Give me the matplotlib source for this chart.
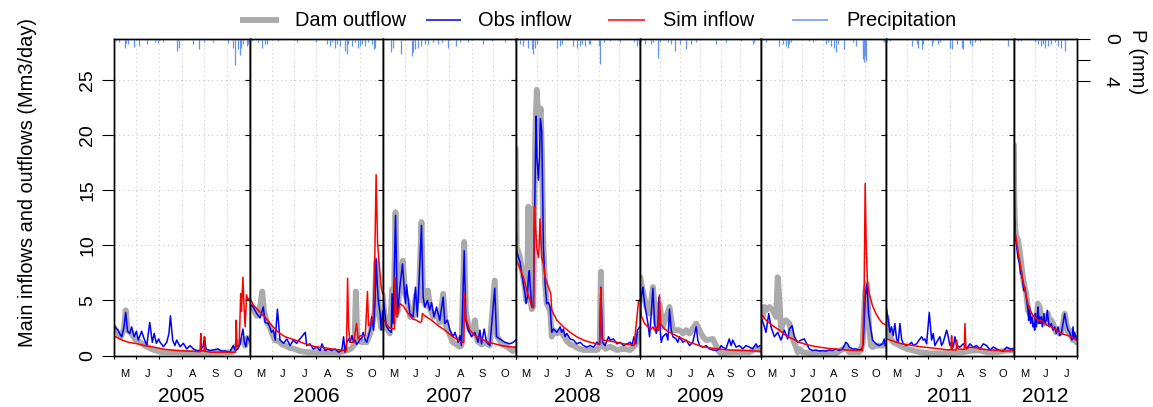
import numpy as np
import matplotlib
matplotlib.use("Agg")
import matplotlib.pyplot as plt
from matplotlib.lines import Line2D

plt.rcParams['font.family'] = ['Liberation Sans', 'DejaVu Sans']

# Seasons: each panel runs from 1 May; x values are days after 1 May
YEARS = [2005, 2006, 2007, 2008, 2009, 2010, 2011, 2012]
SEASON_DAYS = [184, 184, 184, 184, 184, 184, 184, 92]
MONTH_LABELS = ["M", "J", "J", "A", "S", "O"]
MONTH_STARTS = [0, 31, 61, 92, 123, 153, 184]

# ---- Dam outflow (Mm3/day): (day, value)
OUT_2005 = [(0, 2.6), (5, 2.1), (10, 1.7), (14, 2.4), (16.5, 4.1), (19, 2.3), (24, 2.0), (30, 1.4), (36, 1.2),
            (42, 0.9), (48, 0.7), (55, 0.5), (65, 0.3), (80, 0.3), (100, 0.25), (120, 0.25), (140, 0.25),
            (160, 0.3), (165, 0.8), (170, 1.2), (175, 1.4), (178, 0.9), (181, 1.6), (184, 1.3)]
OUT_2006 = [(0, 4.5), (5, 4.2), (10, 3.6), (15, 4.6), (17.5, 5.8), (20, 4.0), (24, 3.0), (28, 2.6), (31, 2.0),
            (35, 1.4), (40, 1.3), (45, 1.0), (50, 0.9), (55, 0.7), (62, 0.6), (70, 0.4), (80, 0.3), (95, 0.3),
            (110, 0.3), (125, 0.3), (132, 0.4), (140, 0.6), (145, 1.0), (147, 5.8), (149, 1.5), (155, 1.2),
            (162, 1.2), (167, 2.0), (170, 3.0), (173, 4.0), (175, 8.5), (177, 5.5), (180, 3.5), (182, 2.5),
            (184, 3.0)]
OUT_2007 = [(0, 5.5), (2, 4.0), (5, 2.5), (10, 2.0), (13, 6.0), (15, 3.0), (17.8, 13.0), (20.5, 4.0), (24, 6.8),
            (28, 8.6), (31, 5.5), (34, 5.0), (38, 3.5), (42, 3.5), (46, 5.5), (50, 5.0), (53.7, 12.1), (56, 5.0),
            (60, 4.5), (62.5, 5.9), (66, 4.2), (70, 3.5), (75, 3.8), (79, 3.0), (83.7, 5.6), (87, 2.8), (92, 2.0),
            (97, 1.2), (102, 1.0), (106, 0.8), (109, 0.9), (112.8, 10.3), (115, 4.0), (119, 2.5), (124, 2.0),
            (127.5, 3.2), (131, 1.3), (137, 1.0), (142, 1.2), (148, 0.9), (155, 6.8), (158, 1.8), (165, 1.0),
            (172, 0.8), (180, 0.4), (184, 0.6)]
OUT_2008 = [(0, 18.8), (0.8, 14.0), (1.5, 9.8), (4, 9.4), (6.4, 8.9), (9, 7.8), (11.4, 7.0), (13.9, 6.0),
            (15.5, 5.0), (17, 6.5), (18.8, 13.5), (20.5, 8.0), (22, 5.0), (23.8, 4.2), (26, 4.5), (27.5, 12.0),
            (29, 20.0), (31.2, 24.1), (33, 22.0), (35.2, 21.0), (37, 22.4), (39, 18.0), (41.1, 9.8), (43.6, 6.5),
            (46, 4.7), (51, 4.1), (53.5, 1.7), (56, 2.3), (61, 2.0), (66, 2.2), (71, 1.8), (76, 1.3), (81, 1.0),
            (86, 0.9), (91, 0.7), (100, 0.5), (110, 0.5), (120.4, 0.5), (124.5, 0.8), (126.3, 7.6), (128.5, 1.0),
            (133, 0.6), (140, 0.8), (150, 0.5), (160, 0.6), (170, 0.5), (175, 0.8), (178, 1.0), (181, 1.5),
            (184, 2.0)]
OUT_2009 = [(0.8, 7.1), (2.3, 6.5), (4.8, 5.9), (9.9, 4.4), (14.9, 3.8), (20, 6.2), (25, 2.9), (30, 4.7),
            (35, 2.6), (45.2, 4.4), (50.3, 2.3), (60.4, 2.3), (65.5, 2.0), (70.5, 2.3), (75.6, 2.0), (85.7, 2.9),
            (95.8, 1.7), (100.9, 1.4), (111, 1.5), (116, 0.9), (121, 0.3), (126, 0.15), (136, 0.3), (146, 0.3),
            (156.5, 0.3), (166.6, 0.3), (176.7, 0.6), (182.8, 0.45)]
OUT_2010 = [(0.3, 4.4), (2.7, 3.5), (5.2, 4.4), (7.6, 4.1), (12.5, 4.4), (17.4, 4.1), (22.3, 3.5), (24.8, 7.1),
            (27.2, 5.3), (29.7, 2.3), (32.1, 2.9), (37, 3.2), (42, 2.9), (44.3, 2.3), (46.8, 1.5), (51.7, 0.76),
            (54.2, 0.3), (56.6, 0.6), (61.5, 0.3), (71.3, 0.2), (90.9, 0.2), (110.5, 0.2), (125.2, 0.76),
            (130.1, 0.3), (144.8, 0.3), (149.7, 1.06), (153.6, 5.9), (156.1, 6.5), (159.5, 2.3), (162, 0.9),
            (164.4, 0.76), (169.3, 0.9), (181.5, 0.9)]
OUT_2011 = [(1, 3.5), (3.4, 2.3), (5.7, 1.7), (10.5, 1.2), (20.1, 0.9), (29.7, 0.6), (39.3, 0.45), (48.9, 0.3),
            (63.2, 0.2), (87.2, 0.2), (111.2, 0.3), (125.5, 0.45), (135.1, 0.45), (144.7, 0.3), (159.1, 0.3),
            (173.5, 0.45), (183, 0.45)]
OUT_2012 = [(0, 19.1), (0.5, 14.0), (2, 11.4), (3.4, 10.8), (5.8, 10.5), (8.3, 9.5), (10.7, 8.3), (13.1, 7.1),
            (15.6, 6.2), (18, 5.6), (20.4, 4.1), (22.9, 3.8), (25.3, 3.5), (27.8, 3.2), (30.2, 2.9), (32.6, 3.2),
            (35, 4.7), (37.5, 4.4), (40, 3.5), (42.4, 3.5), (44.8, 2.9), (47.2, 3.0), (49.7, 3.8), (52, 2.9),
            (54.5, 3.2), (57, 2.9), (59.4, 2.4), (61.8, 2.1), (64.3, 2.1), (66.7, 2.0), (69.1, 2.1), (71.6, 2.9),
            (74, 3.8), (76.4, 3.0), (78.9, 2.1), (81.3, 2.3), (83.7, 1.7), (86.2, 1.4), (88.6, 1.7), (91, 1.2)]

# ---- Observed inflow (Mm3/day)
OBS_2005 = [(0, 2.9), (3, 2.5), (6, 2.3), (9, 1.9), (11, 1.7), (14, 2.5), (16.5, 3.9), (19, 2.2), (22, 2.0),
            (24.5, 2.6), (28, 1.7), (31, 2.2), (33.5, 1.4), (38, 2.2), (41.5, 1.5), (45, 0.9), (49, 3.0),
            (52.5, 1.2), (55, 2.0), (58, 1.1), (61, 1.5), (63, 1.2), (67.5, 0.8), (72, 1.2), (75, 2.0), (77, 3.6),
            (80, 1.4), (83, 0.9), (85.5, 1.4), (90, 0.8), (94.5, 1.1), (99, 0.6), (103.5, 0.9), (108, 0.6),
            (112.5, 0.45), (117, 0.45), (121, 0.8), (123, 1.7), (125, 0.6), (130, 0.45), (135, 0.5), (141, 0.6),
            (146, 0.4), (151, 0.4), (157, 0.3), (162, 0.9), (165, 0.45), (168, 0.6), (171, 1.0), (175, 2.4),
            (177, 1.2), (179, 0.8), (181, 1.7), (184, 1.3)]
OBS_2006 = [(0, 4.7), (5, 4.4), (10, 3.8), (14.5, 3.4), (19, 4.4), (21.5, 3.0), (26, 2.9), (30.5, 2.1),
            (33, 2.3), (35.5, 1.4), (38.5, 4.2), (42, 1.4), (47, 1.1), (51.5, 1.5), (56, 0.9), (60.5, 1.4),
            (65, 1.1), (72, 1.7), (77, 2.1), (79, 0.9), (83.5, 1.06), (88, 0.6), (93, 0.75), (97.5, 0.45),
            (100, 1.06), (104.5, 0.45), (109, 0.6), (113.5, 0.45), (118, 0.6), (123, 0.3), (127.5, 0.45),
            (130, 1.7), (132, 0.3), (134.5, 1.2), (137, 1.5), (139, 1.2), (141.5, 1.8), (144, 1.2), (146, 1.4),
            (148, 1.0), (150.5, 1.2), (153, 1.5), (155, 1.5), (157, 2.1), (160, 1.4), (162, 1.2), (164.5, 1.8),
            (167, 2.4), (169, 3.5), (171.5, 2.3), (173.5, 5.0), (175, 8.8), (176.5, 6.5), (178, 5.0),
            (180.5, 3.8), (182, 2.3), (184, 4.0)]
OBS_2007 = [(0, 5.8), (2, 4.5), (5, 2.7), (8.5, 2.3), (12, 2.1), (13, 5.6), (14.5, 2.9), (17.8, 12.7),
            (20.5, 3.5), (23.8, 6.2), (27.5, 8.3), (29.7, 6.2), (31.6, 4.7), (33, 6.4), (37.6, 3.8), (42, 3.5),
            (45.4, 6.2), (48, 3.5), (50, 6.2), (53.7, 11.8), (56, 5.3), (58.3, 4.4), (62, 5.0), (65, 4.1),
            (67.6, 4.8), (71, 3.5), (74.5, 4.4), (79, 3.2), (83.7, 5.3), (86, 2.9), (89.7, 3.2), (93, 2.3),
            (97.5, 1.7), (100, 2.1), (104.5, 1.2), (106.8, 1.8), (109, 0.9), (112.8, 9.5), (115, 3.2),
            (118.3, 2.3), (123, 1.7), (127.5, 2.1), (132, 1.2), (134.5, 2.3), (136.7, 1.06), (140.4, 2.4),
            (143.7, 1.2), (148.3, 0.9), (155, 6.1), (157.5, 1.7), (162, 1.5), (169, 1.2), (176, 1.06),
            (180.6, 1.2), (184, 1.4)]
OBS_2008 = [(0, 17.4), (0.8, 12.0), (1.5, 9.5), (4, 8.9), (6.4, 8.5), (8.9, 7.4), (11.4, 6.5), (13.9, 5.6),
            (15.3, 4.7), (17.3, 5.3), (18.8, 7.1), (20.3, 7.7), (21.3, 6.5), (23.8, 4.4), (26.2, 4.5),
            (27.5, 10.0), (29, 17.0), (30.2, 21.7), (31.5, 18.0), (33.7, 15.9), (35.2, 18.0), (36.6, 21.5),
            (38.6, 20.4), (41.1, 9.8), (43.6, 6.5), (46, 4.7), (48.5, 4.8), (51, 4.4), (53.5, 2.1), (56, 2.4),
            (61, 2.1), (65.9, 2.6), (68, 2.1), (70.8, 2.4), (73, 1.7), (75.8, 2.0), (80.7, 1.5), (85.7, 1.4),
            (90.6, 1.06), (95.6, 1.2), (100.5, 0.9), (105.5, 0.76), (110.4, 0.9), (115.4, 0.76), (120.4, 1.2),
            (124.5, 1.0), (126.3, 6.2), (128.8, 1.2), (132.5, 0.9), (137.7, 1.7), (140.2, 1.4), (145, 1.5),
            (150, 1.06), (155, 1.2), (160, 0.9), (165, 1.06), (170, 1.2), (172.5, 0.9), (175.3, 1.7),
            (178.3, 1.06), (180.5, 2.3), (184, 2.6)]
OBS_2009 = [(0.8, 3.5), (2.3, 5.3), (4.8, 6.2), (7.3, 4.7), (9.9, 3.8), (12.4, 2.9), (14.9, 1.7), (17.4, 3.8),
            (20, 6.1), (22.5, 2.9), (25, 2.0), (27.6, 2.6), (29, 5.3), (31, 2.3), (32.6, 1.2), (35, 1.7),
            (40.2, 2.0), (42.7, 1.4), (45.2, 4.2), (47.8, 2.3), (50.3, 1.7), (55.3, 1.5), (57.9, 1.2),
            (60.4, 1.7), (65.5, 1.2), (70.5, 1.4), (75.6, 0.9), (80.6, 1.2), (85.7, 2.6), (88.2, 1.4),
            (90.8, 0.9), (95.8, 0.76), (100.9, 0.9), (105.9, 0.6), (111, 0.5), (116, 0.45), (121, 0.6),
            (123.6, 0.9), (126, 0.76), (131, 0.6), (136, 1.5), (138.8, 0.9), (141.3, 1.4), (146.3, 0.76),
            (151.4, 0.9), (156.5, 0.6), (161.5, 0.9), (166.6, 0.76), (171.6, 0.6), (176.7, 1.06), (179.2, 0.76),
            (182.8, 0.9)]
OBS_2010 = [(0.3, 3.5), (3.7, 2.9), (7.6, 2.1), (11.6, 3.8), (15, 2.6), (19.9, 1.7), (24.8, 2.1), (29.7, 1.4),
            (34.6, 2.3), (39.5, 1.5), (42, 2.4), (45.9, 2.7), (49.3, 1.7), (54.2, 1.2), (59.1, 1.4), (64, 1.5),
            (66.4, 1.2), (71.3, 0.6), (76.2, 0.45), (81.1, 0.5), (86, 0.4), (90.9, 0.45), (95.8, 0.4),
            (100.7, 0.5), (105.6, 0.45), (110.5, 0.6), (115.4, 0.45), (120.3, 0.6), (125.2, 1.2), (127.7, 1.06),
            (130.1, 0.76), (135, 0.6), (139.9, 0.6), (144.8, 0.5), (148.7, 0.6), (150.7, 1.06), (153.6, 5.3),
            (156.1, 6.5), (158.5, 3.8), (162, 2.3), (164.4, 1.4), (169.3, 1.06), (174.2, 0.9), (179.1, 1.06),
            (181.5, 1.5), (183, 0.9)]
OBS_2011 = [(1, 4.2), (3.4, 3.2), (5.7, 2.1), (8.1, 2.6), (10.5, 1.8), (12.9, 2.9), (15.3, 1.5), (17.7, 1.2),
            (20.1, 2.9), (22.5, 1.5), (24.9, 1.06), (29.7, 0.9), (34.5, 1.06), (36.9, 1.2), (39.3, 0.9),
            (44.1, 1.06), (48.9, 1.5), (51.3, 1.7), (53.7, 1.4), (56, 1.5), (58.5, 1.06), (62.3, 3.9),
            (65.7, 1.4), (68, 2.0), (70.4, 0.9), (72.8, 1.2), (77.6, 1.7), (80, 0.9), (82.4, 1.2), (87.2, 2.3),
            (89.6, 1.7), (92, 0.9), (94.4, 1.2), (96.8, 0.76), (99.2, 1.7), (101.6, 0.9), (106.4, 0.76),
            (111.2, 1.06), (113.6, 0.9), (116, 0.6), (120.7, 1.06), (125.5, 0.76), (130.3, 0.9), (135.1, 0.6),
            (139.9, 1.06), (144.7, 0.9), (149.5, 0.5), (154.3, 0.76), (159.1, 0.6), (163.9, 0.45), (168.7, 0.4),
            (173.5, 0.76), (178.2, 0.6), (183, 0.6)]
OBS_2012 = [(0, 18.6), (1, 12.9), (2, 10.8), (3.4, 10.2), (5.8, 8.9), (8.3, 8.3), (9.7, 7.4), (10.7, 7.7),
            (13.1, 6.5), (14.6, 5.9), (15.6, 6.2), (18, 5.3), (20.4, 4.1), (21.4, 3.2), (22.9, 4.4), (24.3, 2.9),
            (26.3, 3.5), (27.8, 2.6), (29.2, 2.9), (30.2, 2.3), (31.2, 3.8), (32.6, 2.6), (34.1, 3.5), (35, 4.4),
            (36.5, 2.9), (37.5, 3.5), (39, 2.9), (40, 3.5), (41.4, 2.6), (43.8, 3.8), (44.8, 2.9), (47.2, 3.2),
            (48.7, 4.1), (50.6, 2.9), (52, 2.6), (54.5, 2.9), (57, 2.3), (59.4, 2.6), (61.8, 2.0), (64.3, 2.6),
            (66.7, 1.8), (69.1, 2.0), (71.6, 2.9), (74, 3.8), (76.4, 2.9), (78.9, 2.3), (81.3, 2.1), (82.8, 1.7),
            (84.7, 1.4), (86.2, 2.6), (87.6, 1.5), (88.6, 2.1), (91, 1.5)]

# ---- Simulated inflow (Mm3/day)
SIM_2005 = [(0, 1.8), (10, 1.45), (20, 1.2), (33, 1.05), (45, 0.85), (55, 0.75), (70, 0.55), (85, 0.45),
            (100, 0.4), (117, 0.35), (118, 2.0), (119, 0.4), (122.5, 0.4), (123, 1.7), (124, 0.4), (130, 0.3),
            (150, 0.3), (165, 0.3), (166, 3.2), (167, 0.8), (170, 1.0), (172, 5.6), (173, 4.0), (175, 7.1),
            (176.5, 4.5), (178, 2.6), (180, 5.5), (182, 5.0), (184, 5.2)]
SIM_2006 = [(0, 5.3), (5, 4.6), (12, 4.1), (21, 3.5), (31, 2.7), (40, 2.1), (49, 1.7), (63, 1.4), (77, 1.06),
            (91, 0.8), (104, 0.7), (118, 0.55), (134, 0.45), (135.5, 7.0), (137, 2.5), (139, 1.2), (144, 1.2),
            (148, 2.9), (150, 1.5), (153, 1.8), (160, 1.8), (163, 5.8), (164.5, 2.7), (168, 2.9), (171, 3.5),
            (173, 8.3), (175, 16.4), (177, 10.2), (180, 7.7), (182, 6.2), (184, 5.6)]
SIM_2007 = [(0, 3.4), (4, 3.0), (8, 2.6), (12, 2.45), (16.3, 2.4), (16.8, 7.1), (18.5, 3.8), (20, 3.5),
            (23.8, 4.7), (28.4, 4.5), (35.3, 3.8), (42, 3.3), (46.8, 3.2), (51.4, 3.0), (54, 3.1), (55, 3.8),
            (58.3, 3.6), (67.6, 3.2), (76.8, 2.7), (86, 2.3), (95, 1.8), (104.5, 1.4), (110, 1.2), (112.3, 1.2),
            (112.8, 5.6), (114.6, 3.5), (120.6, 2.3), (127.5, 1.8), (136.7, 1.5), (146, 1.2), (155, 1.06),
            (164.4, 0.9), (173.7, 0.8), (184, 0.75)]
SIM_2008 = [(1.5, 8.6), (11.4, 7.1), (16.3, 5.9), (21.3, 5.0), (24, 4.4), (26.5, 4.3), (27.5, 13.5),
            (31.2, 9.8), (33.7, 8.9), (34.5, 9.5), (36, 12.4), (38.6, 8.9), (41.1, 8.3), (43.6, 7.1), (48.5, 6.2),
            (52, 5.6), (53.5, 4.1), (61, 3.2), (70.8, 2.6), (80.7, 2.1), (90.6, 1.7), (100.5, 1.4), (110.4, 1.2),
            (120.4, 1.06), (124.3, 1.0), (126.3, 6.1), (127.8, 1.5), (130.3, 1.4), (140.2, 1.3), (150, 1.2),
            (160, 1.06), (170, 0.97), (175.8, 0.9), (177.8, 2.3), (179.8, 3.5), (182.3, 5.0), (184, 5.0)]
SIM_2009 = [(0.8, 5.0), (2.3, 3.6), (7.3, 2.9), (12.4, 2.6), (17.4, 2.4), (20, 2.6), (22.5, 2.3), (25, 2.6),
            (27.6, 2.3), (29, 2.3), (30, 5.5), (31.6, 2.9), (37.7, 2.4), (45.2, 2.1), (55.3, 1.8), (65.5, 1.5),
            (75.6, 1.2), (85.7, 1.0), (95.8, 0.8), (105.9, 0.7), (121, 0.58), (136, 0.5), (156.5, 0.45),
            (176.7, 0.4), (184, 0.4)]
SIM_2010 = [(0, 3.8), (7.6, 3.2), (17.4, 2.7), (27.2, 2.3), (37, 1.8), (46.8, 1.5), (56.6, 1.2), (66.4, 1.0),
            (81.1, 0.8), (95.8, 0.67), (110.5, 0.58), (125.2, 0.5), (139.9, 0.45), (149.7, 0.45), (152, 6.0),
            (153.5, 15.6), (155, 10.0), (157, 6.5), (159.5, 5.6), (164.4, 4.5), (169.3, 3.8), (174.2, 3.3),
            (179.1, 2.9), (184, 2.8)]
SIM_2011 = [(1, 1.5), (10.5, 1.3), (20.1, 1.1), (29.7, 1.0), (39.3, 0.9), (48.9, 0.8), (63.2, 0.7), (77.6, 0.6),
            (87.2, 0.52), (93.5, 0.52), (94.4, 1.8), (95.5, 0.52), (101, 0.5), (101.6, 1.4), (103.5, 0.6),
            (112.5, 0.55), (113.6, 2.9), (115, 0.6), (120.7, 0.75), (130.3, 0.7), (135.1, 0.6), (149.5, 0.5),
            (163.9, 0.45), (173.5, 0.4), (183, 0.45)]
SIM_2012 = [(0, 12.0), (1.5, 11.2), (3.4, 10.5), (5.8, 9.5), (8.3, 8.6), (10.7, 7.7), (13.1, 6.8), (15.6, 6.1),
            (18, 5.3), (20.4, 4.7), (22.9, 4.2), (25.3, 3.9), (27.8, 3.6), (30.2, 3.5), (35, 3.2), (40, 3.2),
            (44.8, 2.9), (49.7, 2.7), (54.5, 2.6), (59.4, 2.4), (64.3, 2.2), (69.1, 2.0), (74, 1.9), (78.9, 1.8),
            (83.7, 1.7), (88.6, 1.5), (91, 1.4)]

# ---- Daily precipitation (mm)
PRCP_2005 = [(3, 0.2), (8, 0.3), (15, 0.9), (17.5, 0.4), (20, 0.5), (28, 0.8), (35, 0.7), (45, 0.5), (56, 0.3),
             (60, 0.4), (67, 0.3), (85.5, 1.15), (88, 0.85), (108, 0.5), (116, 1.0), (123, 0.3), (135, 0.3),
             (155, 0.4), (162, 0.85), (164, 2.5), (168, 1.0), (171, 1.5), (173, 0.85), (175, 0.5), (180, 0.7),
             (182, 0.5)]
PRCP_2006 = [(3, 0.2), (12, 0.37), (17.8, 0.84), (21.4, 0.53), (23.8, 0.53), (40, 0.2), (65, 0.37), (91.6, 0.37),
             (107.7, 0.53), (111.4, 0.68), (113.7, 0.37), (118.3, 0.84), (120.6, 0.53), (125.2, 0.68), (132, 1.15),
             (134.5, 1.46), (136.7, 0.53), (141.4, 0.68), (146, 0.37), (150.6, 0.84), (152.8, 0.68), (155, 0.53),
             (159.8, 0.68), (164.4, 0.37), (169, 0.53), (171.4, 1.0), (173.7, 0.84)]
PRCP_2007 = [(11.3, 1.3), (14.5, 0.84), (26, 1.46), (40, 1.6), (42, 1.3), (44.5, 1.0), (49, 0.84), (53.7, 0.68),
             (58.3, 0.53), (63, 0.53), (70, 0.37), (76.8, 0.53), (81.4, 0.37), (90.6, 0.84), (102, 0.68),
             (106.8, 0.37), (118.3, 0.37), (139, 0.53), (150.6, 0.2), (169, 0.37), (183, 0.37)]
PRCP_2008 = [(6.4, 0.53), (11.4, 0.68), (18.8, 0.84), (23.8, 1.0), (25.3, 1.46), (28.7, 0.84), (31.2, 0.53),
             (61, 0.84), (65.9, 0.68), (68.3, 0.53), (85.7, 0.68), (90.6, 0.84), (95.6, 0.68), (98, 0.53),
             (103, 0.68), (108, 0.53), (110.4, 0.53), (122.8, 0.68), (125.3, 2.4), (130.3, 0.37), (140.2, 0.2),
             (155, 0.37), (175, 0.37), (179.8, 0.68), (182.3, 0.53)]
PRCP_2009 = [(2.3, 0.37), (7.3, 0.53), (17.4, 0.53), (20, 0.37), (28, 1.77), (30, 0.37), (42.7, 0.37),
             (47.8, 0.53), (52.8, 1.15), (60.4, 0.53), (70.5, 1.0), (78, 0.53), (85.7, 0.37), (116, 0.53),
             (131, 0.37), (154, 0.2), (171.6, 0.53), (174, 0.37)]
PRCP_2010 = [(7.6, 0.37), (27.2, 0.68), (32.1, 0.53), (37, 0.68), (39.5, 0.84), (42, 0.53), (44.3, 0.37),
             (71.3, 0.2), (76.2, 0.37), (95.8, 0.53), (98.3, 0.37), (103.2, 0.68), (108.1, 0.84), (110.5, 1.3),
             (113, 0.53), (122.8, 1.0), (135, 0.37), (139.9, 0.68), (149.7, 1.15), (150.7, 1.9), (152.2, 2.2),
             (153.6, 1.6), (154.6, 2.1), (179.1, 0.2), (181.5, 0.37)]
PRCP_2011 = [(1, 0.37), (5.7, 0.2), (36.9, 0.68), (44.1, 0.53), (46.5, 0.84), (51.3, 1.0), (53.7, 0.53),
             (65.6, 0.68), (68, 0.37), (75.2, 0.53), (77.6, 0.37), (92, 0.84), (94.4, 1.0), (101.6, 0.53),
             (108.8, 0.84), (111.2, 1.0), (120.7, 0.53), (123.1, 0.68), (127.9, 0.37), (135.1, 0.2), (175.8, 0.68)]
PRCP_2012 = [(5.8, 0.2), (10.7, 0.2), (30.2, 0.37), (35, 0.53), (40, 0.68), (42.4, 0.53), (44.8, 0.84),
             (49.7, 0.68), (54.5, 0.53), (59.4, 0.37), (64.3, 0.68), (69.1, 0.84), (74, 1.15)]

OUTFLOW = [OUT_2005, OUT_2006, OUT_2007, OUT_2008, OUT_2009, OUT_2010, OUT_2011, OUT_2012]
OBSERVED = [OBS_2005, OBS_2006, OBS_2007, OBS_2008, OBS_2009, OBS_2010, OBS_2011, OBS_2012]
SIMULATED = [SIM_2005, SIM_2006, SIM_2007, SIM_2008, SIM_2009, SIM_2010, SIM_2011, SIM_2012]
PRECIP = [PRCP_2005, PRCP_2006, PRCP_2007, PRCP_2008, PRCP_2009, PRCP_2010, PRCP_2011, PRCP_2012]

C_OUT = '#AAAAAA'
C_OBS = '#0000FF'
C_SIM = '#FF0000'
C_PRCP = '#6495ED'
GRID = '#C8C8C8'
FS = 14.4


def split(pairs):
    arr = np.array(pairs, dtype=float)
    return arr[:, 0], arr[:, 1]


W, H = 1153, 407
fig = plt.figure(figsize=(W / 100, H / 100), dpi=100)
panel_widths = [136, 133, 133, 124, 121, 125, 128, 63]
gs = fig.add_gridspec(1, len(YEARS), width_ratios=panel_widths, wspace=0,
                      left=113.5 / W, right=1077 / W, top=1 - 38.5 / H, bottom=1 - 355.5 / H)

YMAX = 28.75
PMAX = 29.5

for i, year in enumerate(YEARS):
    ax = fig.add_subplot(gs[0, i])
    n = SEASON_DAYS[i]
    ax.set_xlim(0, n)
    ax.set_ylim(0, YMAX)

    starts = [m for m in MONTH_STARTS if m <= n]
    mids = [(a + b) / 2 for a, b in zip(starts[:-1], starts[1:])]
    ax.set_xticks(starts)
    ax.set_xticklabels([])
    ax.set_xticks(mids, minor=True)
    ax.set_xticklabels(MONTH_LABELS[:len(mids)], minor=True, fontsize=8)
    ax.tick_params(axis='x', which='major', length=2.5, width=0.8, direction='out')
    ax.tick_params(axis='x', which='minor', length=0, pad=9.5)

    ax.set_yticks([0, 5, 10, 15, 20, 25])
    ax.grid(True, which='major', color=GRID, linestyle=(0, (1, 3)), linewidth=0.8)
    ax.set_axisbelow(True)
    if i == 0:
        ax.tick_params(axis='y', length=9, width=0.8, labelsize=14, labelrotation=90, pad=3.5)
        for lbl in ax.get_yticklabels():
            lbl.set_va('center')
    else:
        ax.tick_params(axis='y', left=False, labelleft=False)

    for s in ax.spines.values():
        s.set_linewidth(1.0)

    d, v = split(OUTFLOW[i])
    ax.plot(d, v, color=C_OUT, lw=4.2, solid_capstyle='round', solid_joinstyle='round', zorder=2)
    d, v = split(OBSERVED[i])
    ax.plot(d, v, color=C_OBS, lw=1.1, zorder=3)
    d, v = split(SIMULATED[i])
    ax.plot(d, v, color=C_SIM, lw=1.1, zorder=4)

    ax.annotate(str(year), xy=(0.5, 0), xycoords='axes fraction', xytext=(0, -29.5),
                textcoords='offset points', ha='center', va='center', fontsize=15)

    # precipitation hangs from the top on its own reversed scale
    ax2 = ax.twinx()
    ax2.set_ylim(PMAX, 0)
    d, p = split(PRECIP[i])
    ax2.vlines(d, 0, p, color=C_PRCP, lw=0.9)
    for s in ax2.spines.values():
        s.set_linewidth(1.0)
    if i == len(YEARS) - 1:
        ax2.set_yticks([0, 2, 4])
        ax2.set_yticklabels(['0', '', '4'])
        ax2.tick_params(axis='y', length=9, width=0.8, labelsize=14, labelrotation=-90, pad=9)
        for lbl in ax2.get_yticklabels():
            lbl.set_va('center')
    else:
        ax2.set_yticks([])

fig.text(28 / W, 1 - 182.5 / H, 'Main inflows and outflows (Mm3/day)', rotation=90,
         ha='center', va='center', fontsize=FS)
fig.text(1137 / W, 1 - 62 / H, 'P (mm)', rotation=-90, ha='center', va='center', fontsize=FS)

# legend across the top
legend_items = [
    ('Dam outflow', C_OUT, 4.2, 240, 279, 295),
    ('Obs inflow', C_OBS, 1.1, 426, 461, 478),
    ('Sim inflow', C_SIM, 1.1, 608, 645, 663),
    ('Precipitation', C_PRCP, 1.1, 792, 828, 846),
]
ly = 1 - 20 / H
for label, color, lw, x0, x1, xt in legend_items:
    fig.add_artist(Line2D([x0 / W, x1 / W], [ly, ly], transform=fig.transFigure, color=color, lw=lw,
                          solid_capstyle='butt'))
    fig.text(xt / W, ly, label, ha='left', va='center', fontsize=FS)

fig.savefig('out.png', dpi=100)
